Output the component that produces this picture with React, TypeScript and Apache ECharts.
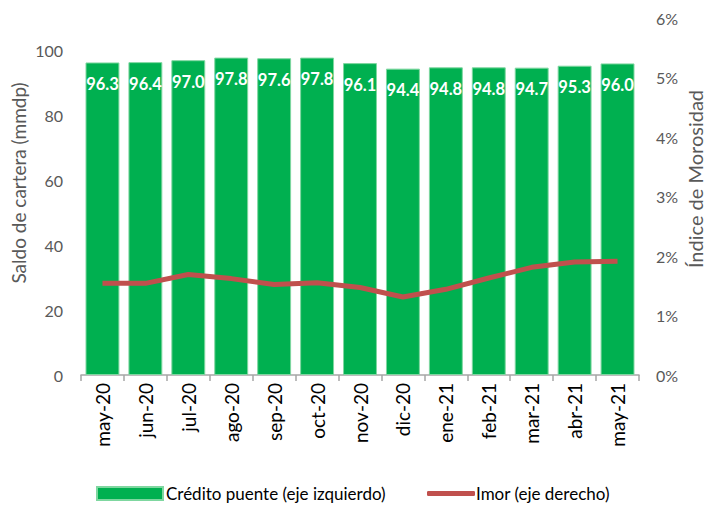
import React, { useEffect, useRef } from "react";
import * as echarts from "echarts";

const categories = ["may-20", "jun-20", "jul-20", "ago-20", "sep-20", "oct-20", "nov-20", "dic-20", "ene-21", "feb-21", "mar-21", "abr-21", "may-21"];
const creditoPuente = [96.3, 96.4, 97.0, 97.8, 97.6, 97.8, 96.1, 94.4, 94.8, 94.8, 94.7, 95.3, 96.0];
const imor = [1.54, 1.54, 1.69, 1.62, 1.52, 1.55, 1.47, 1.31, 1.44, 1.63, 1.81, 1.90, 1.91];
const leftTicks = [0, 20, 40, 60, 80, 100];
const rightTicksPct = [0, 1, 2, 3, 4, 5, 6];

const FONT = "Lato";
const GRAY = "#595959";

export default function App() {
  const ref = useRef<HTMLDivElement>(null);
  useEffect(() => {
    if (!ref.current) return;
    const chart = echarts.init(ref.current, null, { renderer: "svg" });
    chart.setOption({
      animation: false,
      textStyle: { fontFamily: FONT },
      grid: { left: 81, right: 68, top: 18, bottom: 130, containLabel: false },
      graphic: [
        {
          type: "text",
          x: 18,
          y: 183,
          rotation: Math.PI / 2,
          style: {
            text: "Saldo de cartera (mmdp)",
            fontFamily: FONT,
            fontSize: 19,
            fill: GRAY,
            textAlign: "center",
            textVerticalAlign: "middle",
          },
        },
        {
          type: "text",
          x: 695,
          y: 179,
          rotation: Math.PI / 2,
          style: {
            text: "Índice de Morosidad",
            fontFamily: FONT,
            fontSize: 20,
            fill: GRAY,
            textAlign: "center",
            textVerticalAlign: "middle",
          },
        },
      ],
      legend: [
        {
          data: [{ name: "Crédito puente (eje izquierdo)", icon: "rect" }],
          left: 96,
          top: 485,
          itemWidth: 66,
          itemHeight: 13,
          textStyle: { fontFamily: FONT, fontSize: 17, color: "#000", padding: [0, 0, 0, -2] },
          padding: 0,
        },
        {
          data: [{ name: "Imor (eje derecho)", icon: "roundRect" }],
          left: 427,
          top: 485,
          itemWidth: 48,
          itemHeight: 5,
          textStyle: { fontFamily: FONT, fontSize: 17, color: "#000", padding: [0, 0, 0, -4] },
          padding: 0,
        },
      ],
      xAxis: {
        type: "category",
        data: categories,
        boundaryGap: true,
        axisLine: { show: true, lineStyle: { color: "#a6a6a6", width: 1.5 } },
        axisTick: { show: true, alignWithLabel: false, length: 6, lineStyle: { color: "#a6a6a6", width: 1.5 } },
        axisLabel: { rotate: 90, fontFamily: FONT, fontSize: 19, color: "#000", margin: 8 },
      },
      yAxis: [
        {
          type: "value",
          min: 0,
          max: 110,
          interval: 20,
          position: "left",
          axisLine: { show: false },
          axisTick: { show: false },
          splitLine: { show: false },
          axisLabel: {
            fontFamily: FONT,
            fontSize: 16,
            color: GRAY,
            margin: 18,
            showMaxLabel: false,
            formatter: (v: number) => (leftTicks.includes(v) ? String(v) : ""),
          },
        },
        {
          type: "value",
          min: 0,
          max: 6,
          interval: 1,
          position: "right",
          axisLine: { show: false },
          axisTick: { show: false },
          splitLine: { show: false },
          axisLabel: {
            fontFamily: FONT,
            fontSize: 16,
            color: GRAY,
            margin: 17,
            formatter: (v: number) => (rightTicksPct.includes(v) ? v + "%" : ""),
          },
        },
      ],
      series: [
        {
          name: "Crédito puente (eje izquierdo)",
          type: "bar",
          yAxisIndex: 0,
          data: creditoPuente,
          barCategoryGap: "21%",
          itemStyle: { color: "#00B050", borderColor: "#7fd7a0", borderWidth: 1 },
          label: {
            show: true,
            position: "insideTop",
            distance: 13,
            formatter: (p: any) => p.value.toFixed(1),
            fontFamily: FONT,
            fontWeight: "bold",
            fontSize: 16.5,
            color: "#fff",
          },
        },
        {
          name: "Imor (eje derecho)",
          type: "line",
          yAxisIndex: 1,
          data: imor,
          symbol: "none",
          lineStyle: { color: "#C0504D", width: 5 },
          itemStyle: { color: "#C0504D" },
        },
      ],
    });
    return () => chart.dispose();
  }, []);
  return <div ref={ref} style={{ width: 707, height: 505, position: "absolute", left: 0, top: 0 }} />;
}
